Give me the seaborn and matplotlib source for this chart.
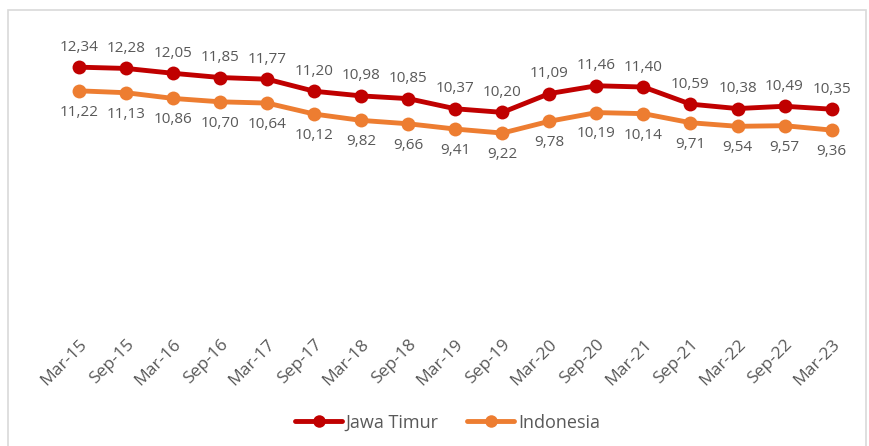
import matplotlib
matplotlib.use("Agg")
import matplotlib.pyplot as plt
import seaborn as sns
import pandas as pd
from matplotlib.patches import Rectangle

sns.set_style("white")
plt.rcParams['font.family'] = ['Open Sans', 'DejaVu Sans']

periods = ["Mar-15", "Sep-15", "Mar-16", "Sep-16", "Mar-17", "Sep-17", "Mar-18", "Sep-18",
           "Mar-19", "Sep-19", "Mar-20", "Sep-20", "Mar-21", "Sep-21", "Mar-22", "Sep-22", "Mar-23"]
jawa_timur = [12.34, 12.28, 12.05, 11.85, 11.77, 11.20, 10.98, 10.85,
              10.37, 10.20, 11.09, 11.46, 11.40, 10.59, 10.38, 10.49, 10.35]
indonesia = [11.22, 11.13, 10.86, 10.70, 10.64, 10.12, 9.82, 9.66,
             9.41, 9.22, 9.78, 10.19, 10.14, 9.71, 9.54, 9.57, 9.36]

series_names = ["Jawa Timur", "Indonesia"]
colors = {"Jawa Timur": "#C00000", "Indonesia": "#ED7D31"}
text_col = "#595959"


def fmt(v):
    return f"{v:.2f}".replace(".", ",")


def main():
    df = pd.DataFrame({"period": periods, "Jawa Timur": jawa_timur, "Indonesia": indonesia})
    df["x"] = range(len(df))
    long = df.melt(id_vars=["period", "x"], value_vars=series_names,
                   var_name="series", value_name="value")

    fig = plt.figure(figsize=(8.69, 4.46), dpi=100)
    ax = fig.add_axes([0.064, 0.265, 0.920, 0.663])

    sns.lineplot(data=long, x="x", y="value", hue="series", hue_order=series_names,
                 palette=colors, marker="o", markersize=10, markeredgewidth=0,
                 linewidth=3.5, ax=ax, legend=False)

    for i, v in enumerate(jawa_timur):
        ax.annotate(fmt(v), (i, v), xytext=(0, 9), textcoords="offset points",
                    ha="center", va="bottom", fontsize=11, color=text_col)
    for i, v in enumerate(indonesia):
        ax.annotate(fmt(v), (i, v), xytext=(0, -10), textcoords="offset points",
                    ha="center", va="top", fontsize=11, color=text_col)

    ax.set_xlim(-0.5, len(periods) - 0.5)
    ax.set_ylim(0, 14)
    ax.set_xticks(range(len(periods)))
    ax.set_xticklabels(periods, rotation=45, ha="right", rotation_mode="anchor",
                       fontsize=12.5, color=text_col)
    ax.tick_params(axis="x", length=0, pad=6)
    ax.set_yticks([])
    ax.set_xlabel("")
    ax.set_ylabel("")
    for s in ax.spines.values():
        s.set_visible(False)

    handles = [plt.Line2D([], [], color=colors[n], marker="o", markersize=9,
                          linewidth=3.5, markeredgewidth=0) for n in series_names]
    fig.legend(handles, series_names, loc="center", bbox_to_anchor=(0.515, 0.052),
               ncol=2, frameon=False, fontsize=13, handlelength=2.6,
               columnspacing=1.6, handletextpad=0.2, labelcolor=text_col)

    fig.patches.append(Rectangle((0.009, -0.05), 0.988, 1.028, transform=fig.transFigure,
                                 fill=False, edgecolor="#D9D9D9", linewidth=1.2))

    fig.savefig("out.png", dpi=100)


if __name__ == "__main__":
    main()
